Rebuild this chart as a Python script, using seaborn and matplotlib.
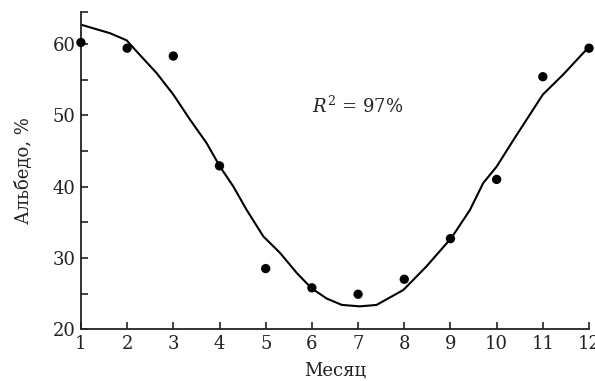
import numpy as np
import pandas as pd
import matplotlib
matplotlib.use("Agg")
import matplotlib.pyplot as plt
import seaborn as sns

# measured albedo by month
months = [1, 2, 3, 4, 5, 6, 7, 8, 9, 10, 11, 12]
albedo = [60.2, 59.4, 58.3, 42.9, 28.5, 25.8, 24.9, 27.0, 32.7, 41.0, 55.4, 59.4]

# fitted curve
fit_x = [1.0, 1.63, 1.99, 2.17, 2.64, 3.0, 3.36, 3.72, 4.01, 4.3, 4.59, 4.95,
         5.31, 5.67, 5.99, 6.32, 6.65, 7.04, 7.4, 7.98, 8.48, 9.02, 9.42,
         9.71, 10.0, 10.36, 10.65, 11.0, 11.44, 12.0]
fit_y = [62.7, 61.5, 60.5, 59.2, 55.9, 52.9, 49.4, 46.1, 42.8, 40.0, 36.7, 33.0,
         30.7, 27.9, 25.75, 24.3, 23.4, 23.2, 23.4, 25.5, 28.8, 32.8, 36.7,
         40.5, 42.8, 46.5, 49.4, 52.9, 55.7, 59.6]

y_ticks = [20, 30, 40, 50, 60]
y_minor = [25, 35, 45, 55, 64.5]

sns.set_style("ticks")
plt.rcParams['font.family'] = ['DejaVu Serif']
plt.rcParams['mathtext.fontset'] = 'dejavuserif'

fig, ax = plt.subplots(figsize=(5.95, 3.81), dpi=100)
fig.subplots_adjust(left=0.136, right=0.990, bottom=0.136, top=0.969)

pts = pd.DataFrame({"month": months, "albedo": albedo})
fit = pd.DataFrame({"month": fit_x, "albedo": fit_y})

sns.lineplot(data=fit, x="month", y="albedo", color="black", linewidth=1.5, ax=ax)
sns.scatterplot(data=pts, x="month", y="albedo", color="black", s=45,
                edgecolor="none", ax=ax, zorder=3, clip_on=False)

ax.set_xlim(1, 12)
ax.set_ylim(20, 64.5)
ax.set_xticks(months)
ax.set_yticks(y_ticks)
ax.set_yticks(y_minor, minor=True)
ax.tick_params(direction="in", length=5, width=1.2, labelsize=13, pad=4,
               color="#222222", labelcolor="#222222")
ax.tick_params(which="minor", direction="in", length=5, width=1.2, color="#222222")
for s in ["left", "bottom"]:
    ax.spines[s].set_linewidth(1.3)
    ax.spines[s].set_color("#222222")
sns.despine(ax=ax)

ax.set_xlabel("Месяц", fontsize=13, labelpad=6, color="#222222")
ax.set_ylabel("Альбедо, %", fontsize=13, labelpad=14, color="#222222")

ax.text(7, 51.3, "$R^2$ = 97%", fontsize=13, ha="center", va="center",
        color="#222222")

fig.savefig("out.png", dpi=100)
